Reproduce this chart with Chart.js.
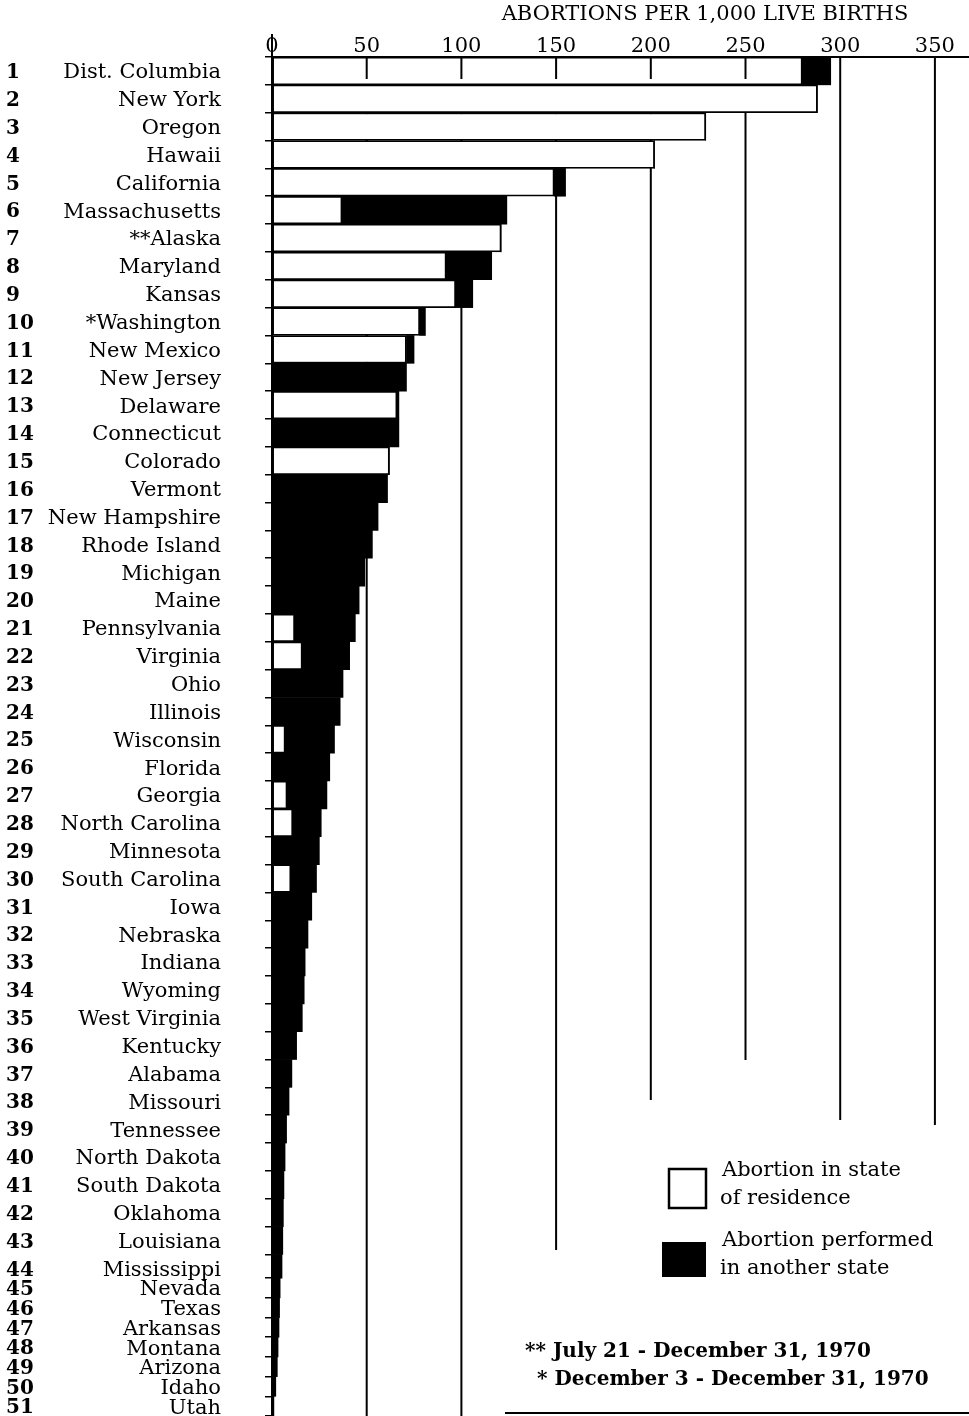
<!DOCTYPE html>
<html>
<head>
<meta charset="utf-8">
<script src="https://cdn.jsdelivr.net/npm/chart.js@4.4.0/dist/chart.umd.min.js"></script>
<style>
  html, body { margin: 0; padding: 0; background: #fff; }
  #wrap { position: relative; width: 969px; height: 1416px; }
</style>
</head>
<body>
<div id="wrap"><canvas id="chart"></canvas></div>
<script>
// states ranked by abortions per 1,000 live births, 1970
const states = [
  'Dist. Columbia', 'New York', 'Oregon', 'Hawaii', 'California', 'Massachusetts',
  '**Alaska', 'Maryland', 'Kansas', '*Washington', 'New Mexico', 'New Jersey',
  'Delaware', 'Connecticut', 'Colorado', 'Vermont', 'New Hampshire', 'Rhode Island',
  'Michigan', 'Maine', 'Pennsylvania', 'Virginia', 'Ohio', 'Illinois', 'Wisconsin',
  'Florida', 'Georgia', 'North Carolina', 'Minnesota', 'South Carolina', 'Iowa',
  'Nebraska', 'Indiana', 'Wyoming', 'West Virginia', 'Kentucky', 'Alabama',
  'Missouri', 'Tennessee', 'North Dakota', 'South Dakota', 'Oklahoma', 'Louisiana',
  'Mississippi', 'Nevada', 'Texas', 'Arkansas', 'Montana', 'Arizona', 'Idaho', 'Utah'
];

// abortion in state of residence
const inState = [
  280, 288, 229, 202, 149, 37, 121, 92, 97, 78, 71, 0,
  66, 0, 62, 0, 0, 0, 0, 0, 12, 16, 0, 0, 7,
  0, 8, 11, 0, 10, 0, 0, 0, 0, 0, 0, 0,
  0, 0, 0, 0, 0, 0, 0, 0, 0, 0, 0, 0, 0, 0
];

// abortion performed in another state
const otherState = [
  15, 0, 0, 0, 6, 87, 0, 24, 9, 3, 4, 71,
  1, 67, 0, 61, 56, 53, 49, 46, 32, 25, 37.5, 36, 26,
  30.5, 21, 15, 25, 13.5, 21, 19, 17.5, 17, 16, 13, 10.5,
  9, 7.7, 6.9, 6.3, 6, 5.7, 5.3, 4.3, 4, 3.7, 3.2, 2.8, 2, 1
];

const xTicks = [0, 50, 100, 150, 200, 250, 300, 350];
const axisTitle = 'ABORTIONS PER 1,000 LIVE BIRTHS';
const legendLines = [['Abortion in state', 'of residence'], ['Abortion performed', 'in another state']];
const footnotes = ['** July 21 - December 31, 1970', '* December 3 - December 31, 1970'];

const SERIF = '"DejaVu Serif", "Liberation Serif", serif';

// category axis whose last rows are printed closer together, like the original
class RowScale extends Chart.CategoryScale {
  static id = 'rowscale';
  static defaults = {};
  getPixelForValue(value) {
    if (typeof value !== 'number') value = this.parse(value);
    if (value === null || value === undefined) return NaN;
    const knee = 43, squeeze = 0.707;
    const u = value <= knee ? value + 0.5 : knee + 0.5 + (value - knee) * squeeze;
    const total = knee + 0.5 + (this.max - knee + 0.5) * squeeze;
    return this.top + u / total * (this.bottom - this.top);
  }
}
Chart.register(RowScale);

const decor = {
  id: 'decor',
  beforeDatasetsDraw(chart) {
    const ctx = chart.ctx, x = chart.scales.x, area = chart.chartArea;
    // gridlines of unequal length as printed
    const ends = { 50: area.bottom, 100: area.bottom, 150: 1250, 200: 1100, 250: 1060, 300: 1120, 350: 1125 };
    ctx.save();
    ctx.strokeStyle = '#000';
    ctx.lineWidth = 2;
    xTicks.forEach(v => {
      if (!ends[v]) return;
      const px = x.getPixelForValue(v);
      ctx.beginPath();
      ctx.moveTo(px, area.top);
      ctx.lineTo(px, ends[v]);
      ctx.stroke();
    });
    ctx.restore();
  },
  afterDraw(chart) {
    const ctx = chart.ctx, x = chart.scales.x, y = chart.scales.y, area = chart.chartArea;
    ctx.save();
    ctx.fillStyle = '#000';
    ctx.strokeStyle = '#000';

    // short tick marks hanging into the first row
    ctx.lineWidth = 2;
    xTicks.forEach(v => {
      if (v === 0 || v > 250) return;
      const px = x.getPixelForValue(v);
      ctx.beginPath();
      ctx.moveTo(px, area.top);
      ctx.lineTo(px, area.top + 22);
      ctx.stroke();
    });
    ctx.beginPath();
    ctx.moveTo(area.left, 34);
    ctx.lineTo(area.left, area.top);
    ctx.stroke();

    // rank numbers and state names
    ctx.textBaseline = 'middle';
    states.forEach((name, i) => {
      const py = y.getPixelForTick(i) + 2;
      ctx.font = 'bold 20px ' + SERIF;
      ctx.textAlign = 'left';
      ctx.fillText(String(i + 1), 6, py);
      ctx.font = '21px ' + SERIF;
      ctx.textAlign = 'right';
      ctx.fillText(name, 221, py);
    });

    // axis title
    ctx.font = '21px ' + SERIF;
    ctx.textAlign = 'center';
    ctx.fillText(axisTitle, 705, 15);

    // legend
    const ds = chart.data.datasets;
    ctx.lineWidth = 2.5;
    ctx.fillStyle = ds[0].backgroundColor;
    ctx.fillRect(669, 1169, 37, 39);
    ctx.strokeRect(669, 1169, 37, 39);
    ctx.fillStyle = ds[1].backgroundColor;
    ctx.fillRect(662, 1242, 44, 35);
    ctx.fillStyle = '#000';
    ctx.font = '21px ' + SERIF;
    ctx.textAlign = 'left';
    ctx.fillText(legendLines[0][0], 722, 1171);
    ctx.fillText(legendLines[0][1], 720, 1199);
    ctx.fillText(legendLines[1][0], 722, 1241);
    ctx.fillText(legendLines[1][1], 720, 1269);

    // footnotes
    ctx.font = 'bold 20px ' + SERIF;
    ctx.fillText(footnotes[0], 525, 1352);
    ctx.fillText(footnotes[1], 537, 1380);

    ctx.lineWidth = 2;
    ctx.beginPath();
    ctx.moveTo(505, 1413);
    ctx.lineTo(969, 1413);
    ctx.stroke();
    ctx.restore();
  }
};

new Chart(document.getElementById('chart'), {
  type: 'bar',
  data: {
    labels: states,
    datasets: [{
      label: legendLines[0].join(' '),
      data: inState,
      backgroundColor: '#fff',
      borderColor: '#000',
      borderWidth: 1.8,
      borderSkipped: false,
      barThickness: 'flex',
      categoryPercentage: 1,
      barPercentage: 1
    }, {
      label: legendLines[1].join(' '),
      data: otherState,
      backgroundColor: '#000',
      borderWidth: 0,
      barThickness: 'flex',
      categoryPercentage: 1,
      barPercentage: 1
    }]
  },
  options: {
    indexAxis: 'y',
    responsive: true,
    maintainAspectRatio: false,
    animation: false,
    events: [],
    layout: { padding: 0 },
    plugins: {
      legend: { display: false },
      tooltip: { enabled: false },
      title: { display: false }
    },
    scales: {
      x: {
        type: 'linear',
        position: 'top',
        stacked: true,
        min: 0,
        max: 368,
        afterBuildTicks: s => { s.ticks = xTicks.map(v => ({ value: v })); },
        afterFit: s => { s.height = 57; },
        ticks: { color: '#000', font: { family: SERIF, size: 21 }, padding: -2, maxRotation: 0 },
        grid: { drawOnChartArea: false, drawTicks: false },
        border: { display: true, color: '#000', width: 2 }
      },
      y: {
        type: 'rowscale',
        stacked: true,
        afterFit: s => { s.width = 272; },
        ticks: { display: false },
        grid: { drawOnChartArea: false, drawTicks: true, tickLength: 7, color: '#000', lineWidth: 1.5 },
        border: { display: true, color: '#000', width: 2 }
      }
    }
  },
  plugins: [decor]
});
</script>
</body>
</html>
